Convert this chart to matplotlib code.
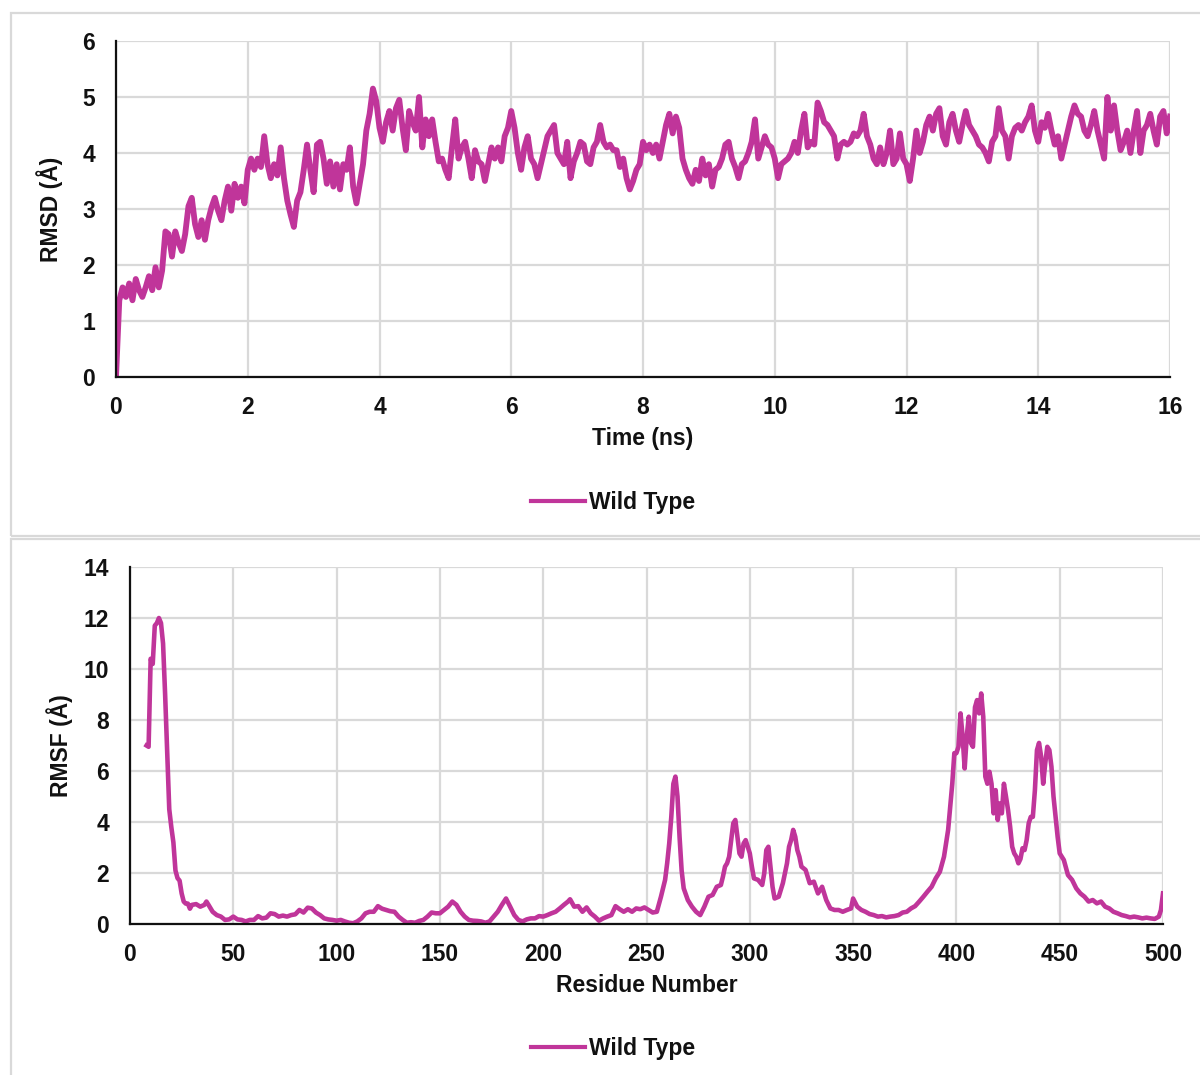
import numpy as np
import matplotlib
matplotlib.use("Agg")
import matplotlib.pyplot as plt
from matplotlib.patches import Rectangle

plt.rcParams['font.family'] = ['Liberation Sans', 'DejaVu Sans']
plt.rcParams['font.weight'] = 'bold'

# ---------------- data ----------------
time_ns = np.round(np.arange(0, 16.001, 0.05), 2)
rmsd = [
    0.0, 1.37, 1.6, 1.43, 1.67, 1.37, 1.75, 1.55, 1.43, 1.6, 1.8, 1.55, 1.96, 1.6, 1.9, 2.6, 2.55, 2.15, 2.6, 2.4,
    2.25, 2.55, 3.05, 3.2, 2.73, 2.5, 2.8, 2.45, 2.8, 3.03, 3.2, 2.97, 2.8, 3.15, 3.4, 2.97, 3.45, 3.2, 3.4, 3.1,
    3.7, 3.9, 3.7, 3.9, 3.75, 4.3, 3.8, 3.55, 3.8, 3.6, 4.1, 3.55, 3.15, 2.9, 2.68, 3.15, 3.3, 3.7, 4.15, 3.7,
    3.3, 4.15, 4.2, 3.9, 3.45, 3.85, 3.4, 3.8, 3.35, 3.8, 3.7, 4.1, 3.4, 3.1, 3.45, 3.8, 4.4, 4.7, 5.15, 4.93,
    4.45, 4.2, 4.55, 4.75, 4.4, 4.8, 4.95, 4.45, 4.05, 4.75, 4.55, 4.4, 5.0, 4.1, 4.6, 4.3, 4.6, 4.2, 3.85, 3.9,
    3.7, 3.55, 4.1, 4.6, 3.9, 4.1, 4.2, 3.9, 3.55, 4.05, 3.85, 3.8, 3.5, 3.8, 4.1, 3.9, 4.1, 3.85, 4.3, 4.45,
    4.75, 4.45, 4.0, 3.7, 4.1, 4.3, 3.9, 3.8, 3.55, 3.8, 4.05, 4.3, 4.4, 4.5, 4.0, 3.9, 3.8, 4.2, 3.55, 3.85,
    4.0, 4.2, 4.15, 3.85, 3.8, 4.1, 4.2, 4.5, 4.2, 4.1, 4.15, 4.05, 4.05, 3.75, 3.9, 3.55, 3.35, 3.5, 3.7, 3.8,
    4.2, 4.05, 4.15, 4.0, 4.15, 3.9, 4.2, 4.5, 4.7, 4.35, 4.65, 4.45, 3.9, 3.7, 3.55, 3.45, 3.7, 3.5, 3.9, 3.6,
    3.8, 3.4, 3.7, 3.75, 3.9, 4.15, 4.2, 3.9, 3.75, 3.55, 3.8, 3.85, 4.0, 4.2, 4.6, 3.9, 4.1, 4.3, 4.15, 4.1,
    3.9, 3.55, 3.8, 3.85, 3.9, 4.0, 4.2, 4.0, 4.4, 4.7, 4.1, 4.2, 4.15, 4.9, 4.75, 4.55, 4.5, 4.4, 4.3, 3.9,
    4.15, 4.2, 4.15, 4.2, 4.35, 4.3, 4.4, 4.7, 4.3, 4.15, 3.9, 3.8, 4.1, 3.8, 4.0, 4.4, 3.8, 3.9, 4.35, 3.9,
    3.8, 3.5, 3.9, 4.4, 4.0, 4.2, 4.5, 4.65, 4.4, 4.7, 4.8, 4.3, 4.15, 4.55, 4.7, 4.4, 4.2, 4.5, 4.75, 4.5,
    4.4, 4.3, 4.15, 4.1, 4.0, 3.85, 4.2, 4.3, 4.8, 4.4, 4.3, 3.9, 4.3, 4.45, 4.5, 4.4, 4.55, 4.65, 4.85, 4.4,
    4.2, 4.55, 4.45, 4.7, 4.4, 4.15, 4.3, 3.9, 4.15, 4.4, 4.65, 4.85, 4.7, 4.65, 4.4, 4.3, 4.5, 4.75, 4.4, 4.15,
    3.9, 5.0, 4.4, 4.85, 4.4, 4.05, 4.2, 4.4, 4.0, 4.4, 4.75, 4.0, 4.4, 4.5, 4.7, 4.4, 4.15, 4.65, 4.75, 4.35,
    4.65,
]

residues = [
    8, 9, 10, 11, 12, 13, 14, 15, 16, 17, 18, 19, 20, 21, 22, 23, 24, 25, 26, 27, 28, 29, 30, 32, 34, 36, 37, 38,
    40, 42, 44, 46, 48, 50, 52, 54, 56, 58, 60, 62, 64, 66, 68, 70, 72, 74, 76, 78, 80, 82, 84, 86, 88, 90, 92,
    94, 96, 98, 100, 102, 104, 106, 108, 110, 112, 114, 116, 118, 120, 122, 124, 126, 128, 130, 132, 134, 136,
    138, 140, 142, 144, 146, 148, 150, 152, 154, 156, 158, 160, 162, 164, 166, 168, 170, 172, 174, 176, 178,
    180, 182, 184, 186, 188, 190, 192, 194, 196, 198, 200, 202, 204, 206, 208, 210, 212, 213, 215, 217, 219,
    221, 223, 225, 227, 229, 231, 233, 235, 237, 239, 241, 243, 245, 247, 249, 251, 253, 255, 257, 259, 260,
    261, 262, 263, 264, 265, 266, 267, 268, 270, 272, 274, 276, 278, 280, 282, 284, 286, 287, 288, 289, 290,
    291, 292, 293, 294, 295, 296, 297, 298, 299, 300, 301, 302, 304, 306, 307, 308, 309, 310, 311, 312, 314,
    316, 318, 319, 320, 321, 322, 323, 324, 325, 327, 329, 331, 333, 335, 337, 339, 341, 343, 345, 347, 349,
    350, 352, 354, 356, 358, 360, 362, 364, 366, 368, 370, 372, 374, 376, 378, 380, 382, 384, 386, 388, 390,
    392, 394, 396, 398, 399, 400, 401, 402, 403, 404, 405, 406, 407, 408, 409, 410, 411, 412, 413, 414, 415,
    416, 417, 418, 419, 420, 421, 422, 423, 424, 425, 426, 427, 428, 429, 430, 431, 432, 433, 434, 435, 436,
    437, 438, 439, 440, 441, 442, 443, 444, 445, 446, 447, 448, 449, 450, 452, 454, 456, 458, 460, 462, 464,
    466, 468, 470, 472, 474, 476, 478, 480, 482, 484, 486, 488, 490, 492, 494, 496, 498, 499, 500,
]
rmsf = [
    7.0, 6.95, 10.4, 10.2, 11.7, 11.8, 12.0, 11.8, 11.0, 9.0, 6.8, 4.5, 3.8, 3.2, 2.1, 1.8, 1.7, 1.2, 0.88, 0.8,
    0.8, 0.6, 0.75, 0.78, 0.68, 0.75, 0.88, 0.75,
    0.48, 0.35, 0.29, 0.16, 0.18, 0.29, 0.18, 0.16, 0.1, 0.16, 0.16, 0.31, 0.22, 0.25, 0.42, 0.39, 0.29, 0.33,
    0.29, 0.35, 0.38, 0.55, 0.45, 0.64, 0.61, 0.45, 0.35,
    0.22, 0.18, 0.16, 0.13, 0.16, 0.1, 0.05, 0.03, 0.1, 0.22, 0.42, 0.48, 0.48, 0.7, 0.6, 0.55, 0.5, 0.48, 0.29,
    0.16, 0.05, 0.07,
    0.05, 0.12, 0.16, 0.29, 0.45, 0.42, 0.42, 0.55, 0.68, 0.88, 0.75, 0.48, 0.29, 0.16, 0.13, 0.12, 0.1, 0.05,
    0.1, 0.29, 0.48,
    0.75, 1.0, 0.68, 0.35, 0.16, 0.1, 0.18, 0.22, 0.22, 0.31, 0.29, 0.35, 0.42, 0.48, 0.61, 0.75, 0.88, 0.97,
    0.68, 0.7, 0.48,
    0.65, 0.42, 0.29, 0.13, 0.22, 0.29, 0.35, 0.7, 0.58, 0.48, 0.58, 0.48, 0.61, 0.58, 0.65, 0.55, 0.45, 0.48,
    1.07, 1.73, 2.38,
    3.16, 4.2, 5.5, 5.78, 5.0, 3.42, 2.1, 1.4, 0.94, 0.68, 0.48, 0.35, 0.68, 1.07, 1.14, 1.46, 1.53, 1.86, 2.25,
    2.38, 2.64,
    3.29, 3.95, 4.08, 3.42, 2.77, 2.64, 3.16, 3.29, 3.03, 2.77, 2.25, 1.79, 1.73, 1.53, 1.99, 2.9, 3.03, 2.25,
    1.46, 1.0, 1.07,
    1.6, 2.38, 3.03, 3.29, 3.69, 3.42, 2.9, 2.64, 2.25, 2.12, 1.6, 1.66, 1.2, 1.46, 0.94, 0.61, 0.55, 0.55,
    0.48, 0.55, 0.61,
    1.0, 0.68, 0.55, 0.48, 0.39, 0.35, 0.29, 0.31, 0.26, 0.29, 0.31, 0.35, 0.45, 0.48, 0.61, 0.7, 0.88, 1.07,
    1.27, 1.46, 1.79,
    2.05, 2.64, 3.69, 5.5, 6.7, 6.7, 6.95, 8.26, 7.35, 6.1, 7.35, 8.13, 7.1, 6.95, 8.5, 8.78, 8.26, 9.04, 8.13,
    5.78, 5.5,
    5.97, 5.5, 4.34, 5.25, 4.08, 4.73, 4.34, 5.5, 5.0, 4.47, 3.82, 3.03, 2.77, 2.64, 2.38, 2.55, 2.97, 2.9, 3.29,
    3.95, 4.2,
    4.2, 5.25, 6.82, 7.1, 6.57, 5.5, 6.3, 6.95, 6.82, 6.17, 5.0, 4.2, 3.42, 2.77, 2.51, 1.92, 1.73, 1.4, 1.2,
    1.07, 0.88,
    0.94, 0.81, 0.88, 0.68, 0.61, 0.48, 0.42, 0.35, 0.31, 0.26, 0.29, 0.26, 0.22, 0.25, 0.22, 0.2, 0.29, 0.55, 1.2,
]

series_name = "Wild Type"
rmsd_xticks = [0, 2, 4, 6, 8, 10, 12, 14, 16]
rmsd_yticks = [0, 1, 2, 3, 4, 5, 6]
rmsf_xticks = [0, 50, 100, 150, 200, 250, 300, 350, 400, 450, 500]
rmsf_yticks = [0, 2, 4, 6, 8, 10, 12, 14]

# ---------------- style ----------------
W, H = 1200, 1075
LINE = '#C0359A'
GRID = '#d9d9d9'
FS = 16.5
TXT = '#111111'

fig = plt.figure(figsize=(W / 100, H / 100), dpi=100)
fig.patch.set_facecolor('white')

# panel borders
for (y_top, y_bot) in [(13, 536), (539, 1085)]:
    fig.patches.append(Rectangle((11 / W, 1 - y_bot / H), (1205 - 11) / W, (y_bot - y_top) / H,
                                 transform=fig.transFigure, fill=False, edgecolor=GRID,
                                 linewidth=1.6, zorder=0))


def px_axes(left, top, right, bottom):
    return fig.add_axes([left / W, 1 - bottom / H, (right - left) / W, (bottom - top) / H])


def style(ax, xticks, yticks):
    ax.set_xticks(xticks)
    ax.set_yticks(yticks)
    ax.set_xlim(xticks[0], xticks[-1])
    ax.set_ylim(yticks[0], yticks[-1])
    ax.grid(True, color=GRID, linewidth=1.6)
    ax.set_axisbelow(True)
    for s in ['top', 'right']:
        ax.spines[s].set_visible(False)
    for s in ['left', 'bottom']:
        ax.spines[s].set_color(TXT)
        ax.spines[s].set_linewidth(1.6)
        ax.spines[s].set_zorder(3)
    ax.tick_params(axis='both', length=0, labelsize=FS, colors=TXT)
    ax.tick_params(axis='y', pad=15)
    ax.tick_params(axis='x', pad=14)
    for lab in ax.get_xticklabels() + ax.get_yticklabels():
        lab.set_fontweight('bold')


def add_legend(ax, x, y):
    leg = ax.legend(loc='center', bbox_to_anchor=(x, y), frameon=False,
                    handlelength=2.35, handletextpad=0.17, prop={'weight': 'bold', 'size': FS})
    for h in leg.get_lines():
        h.set_linewidth(3.0)
    for t in leg.get_texts():
        t.set_color(TXT)


# ---- top: RMSD ----
ax1 = px_axes(116, 41, 1170, 377)
ax1.plot(time_ns, rmsd, color=LINE, linewidth=4.2, solid_joinstyle='round', label=series_name, zorder=2)
style(ax1, rmsd_xticks, rmsd_yticks)
ax1.text(-0.0626, 0.5, 'RMSD (Å)', transform=ax1.transAxes, rotation=90, ha='center', va='center',
         fontsize=FS, fontweight='bold', color=TXT)
ax1.text(0.5, -0.182, 'Time (ns)', transform=ax1.transAxes, ha='center', va='center',
         fontsize=FS, fontweight='bold', color=TXT)
add_legend(ax1, 0.4715, -0.375)

# ---- bottom: RMSF ----
ax2 = px_axes(130, 567, 1163, 924)
ax2.plot(residues, rmsf, color=LINE, linewidth=3.3, solid_joinstyle='round', label=series_name, zorder=2)
style(ax2, rmsf_xticks, rmsf_yticks)
ax2.text(-0.0678, 0.5, 'RMSF (Å)', transform=ax2.transAxes, rotation=90, ha='center', va='center',
         fontsize=FS, fontweight='bold', color=TXT)
ax2.text(0.5, -0.171, 'Residue Number', transform=ax2.transAxes, ha='center', va='center',
         fontsize=FS, fontweight='bold', color=TXT)
add_legend(ax2, 0.4676, -0.35)

fig.savefig('out.png', dpi=100, facecolor='white')
